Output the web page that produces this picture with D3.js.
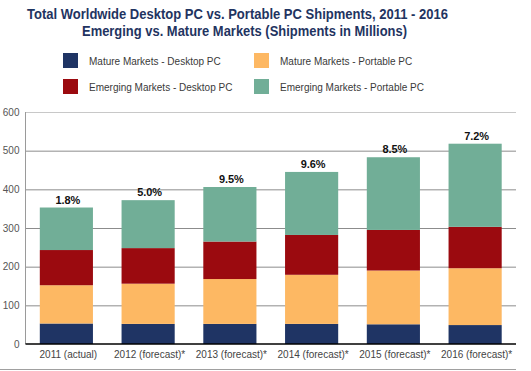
<!DOCTYPE html>
<html>
<head>
<meta charset="utf-8">
<script src="https://cdn.jsdelivr.net/npm/d3@7"></script>
<style>
  body { margin: 0; background: #fff; }
  svg { display: block; font-family: Arial, "Liberation Sans", sans-serif; }
</style>
</head>
<body>
<svg id="chart" width="531" height="371"></svg>
<script>
// data (millions of units)
var years = ["2011 (actual)", "2012 (forecast)*", "2013 (forecast)*", "2014 (forecast)*", "2015 (forecast)*", "2016 (forecast)*"];
var matureDesktop = [53, 52, 52, 52, 51, 49];
var maturePortable = [99, 104, 116, 127, 139, 147];
var emergingDesktop = [91, 92, 97, 103, 105, 107];
var emergingPortable = [110, 124, 141, 163, 188, 215];
var growth = ["1.8%", "5.0%", "9.5%", "9.6%", "8.5%", "7.2%"];
var yTicks = [0, 100, 200, 300, 400, 500, 600];

var seriesNames = ["Mature Markets - Desktop PC", "Mature Markets - Portable PC", "Emerging Markets - Desktop PC", "Emerging Markets - Portable PC"];
var seriesKeys = ["md", "mp", "ed", "ep"];
var colors = ["#1f3464", "#fdb863", "#9b0a0f", "#71ae97"];

var svg = d3.select("#chart");

var plotLeft = 25.5, plotRight = 516, plotTop = 112, plotBottom = 344;

var rows = years.map(function (y, i) {
    return { year: y, md: matureDesktop[i], mp: maturePortable[i], ed: emergingDesktop[i], ep: emergingPortable[i] };
});

var x = d3.scaleBand()
    .domain(years)
    .range([plotLeft, plotRight])
    .paddingInner(0.35)
    .paddingOuter(0.175);

var y = d3.scaleLinear()
    .domain([0, 600])
    .range([plotBottom, plotTop]);

var color = d3.scaleOrdinal().domain(seriesKeys).range(colors);

// title
svg.append("text")
    .attr("x", 27).attr("y", 19)
    .attr("textLength", 421).attr("lengthAdjust", "spacingAndGlyphs")
    .style("font-size", "15px").style("font-weight", "bold").style("fill", "#1f3461")
    .text("Total Worldwide Desktop PC vs. Portable PC Shipments, 2011 - 2016");

svg.append("text")
    .attr("x", 82).attr("y", 36)
    .attr("textLength", 325).attr("lengthAdjust", "spacingAndGlyphs")
    .style("font-size", "15px").style("font-weight", "bold").style("fill", "#1f3461")
    .text("Emerging vs. Mature Markets (Shipments in Millions)");

// legend: mature in the first row, emerging in the second
var legend = svg.append("g").selectAll("g")
    .data(seriesKeys)
    .enter().append("g")
    .attr("transform", function (d, i) {
        var col = i % 2;            // desktop | portable
        var row = Math.floor(i / 2); // mature | emerging
        return "translate(" + (63 + col * 191) + "," + (53 + row * 26) + ")";
    });

legend.append("rect")
    .attr("width", 15).attr("height", 15)
    .attr("fill", function (d) { return color(d); });

legend.append("text")
    .attr("x", 26).attr("y", 11.5)
    .style("font-size", "10px").style("fill", "#3a3a3a")
    .text(function (d, i) { return seriesNames[i]; });

// gridlines
svg.append("g").selectAll("line")
    .data(yTicks.slice(1))
    .enter().append("line")
    .attr("x1", plotLeft).attr("x2", plotRight)
    .attr("y1", function (d) { return y(d) + 0.5; })
    .attr("y2", function (d) { return y(d) + 0.5; })
    .attr("stroke", function (d) { return d === 600 ? "#c8c8c8" : "#8c8c8c"; })
    .attr("stroke-width", 1);

// y axis line
svg.append("line")
    .attr("x1", plotLeft).attr("x2", plotLeft)
    .attr("y1", y(600)).attr("y2", y(0))
    .attr("stroke", "#9a9a9a");

// y tick labels
svg.append("g").selectAll("text")
    .data(yTicks)
    .enter().append("text")
    .attr("x", 19.5)
    .attr("y", function (d) { return y(d); })
    .attr("dy", "0.35em")
    .attr("text-anchor", "end")
    .style("font-size", "10px").style("fill", "#555")
    .text(function (d) { return d; });

// stacked bars
var stacked = d3.stack().keys(seriesKeys)(rows);

svg.append("g").selectAll("g")
    .data(stacked)
    .enter().append("g")
    .attr("fill", function (d) { return color(d.key); })
    .selectAll("rect")
    .data(function (d) { return d; })
    .enter().append("rect")
    .attr("x", function (d) { return x(d.data.year); })
    .attr("y", function (d) { return y(d[1]); })
    .attr("width", x.bandwidth())
    .attr("height", function (d) { return y(d[0]) - y(d[1]); });

// growth labels above bars
var totals = rows.map(function (r) { return r.md + r.mp + r.ed + r.ep; });
svg.append("g").selectAll("text")
    .data(years)
    .enter().append("text")
    .attr("x", function (d) { return x(d) + x.bandwidth() / 2 - 11; })
    .attr("y", function (d, i) { return y(totals[i]) - 4; })
    .attr("textLength", 25).attr("lengthAdjust", "spacingAndGlyphs")
    .style("font-size", "11.5px").style("font-weight", "bold").style("fill", "#111")
    .text(function (d, i) { return growth[i]; });

// x axis line
svg.append("line")
    .attr("x1", plotLeft).attr("x2", plotRight)
    .attr("y1", y(0)).attr("y2", y(0))
    .attr("stroke", "#000").attr("stroke-width", 1.6);

// x labels
svg.append("g").selectAll("text")
    .data(years)
    .enter().append("text")
    .attr("x", function (d) { return x(d) + x.bandwidth() / 2 + (d.indexOf("*") > 0 ? 1.5 : 2); })
    .attr("y", 358)
    .attr("text-anchor", "middle")
    .style("font-size", "10px").style("fill", "#444")
    .text(function (d) { return d; });

// bottom rule
svg.append("line")
    .attr("x1", 0).attr("x2", plotRight)
    .attr("y1", 369.5).attr("y2", 369.5)
    .attr("stroke", "#a0a0a0");
</script>
</body>
</html>
